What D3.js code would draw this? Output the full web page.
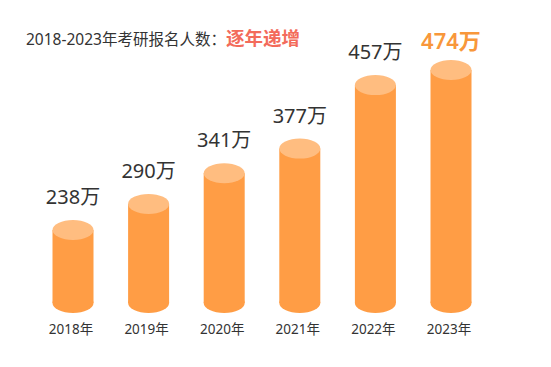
<!DOCTYPE html>
<html>
<head>
<meta charset="utf-8">
<script src="https://cdn.jsdelivr.net/npm/d3@7"></script>
<style>
  body { margin: 0; background: #fff; }
  svg { display: block; font-family: "Noto Sans", "Noto Sans CJK SC", sans-serif; }
</style>
</head>
<body>
<svg id="chart" width="551" height="367"></svg>
<script>
// data
const years = ["2018年", "2019年", "2020年", "2021年", "2022年", "2023年"];
const applicants = [238, 290, 341, 377, 457, 474];
const valueLabels = ["238万", "290万", "341万", "377万", "457万", "474万"];

const svg = d3.select("#chart");
const baseline = 303;
const rx = 20.5;
const ry = 10;

const x = d3.scalePoint().domain(years).range([73, 451]);
// heights grow faster than linear in the picture
const y = d3.scalePow().exponent(2).domain([0, 474]).range([baseline - 19, baseline - 233]);

const data = years.map((yr, i) => ({ year: yr, value: applicants[i], label: valueLabels[i], last: i === years.length - 1 }));

// title
const title = svg.append("text").attr("x", 26).attr("y", 45);
title.append("tspan").attr("font-size", 15.5).attr("fill", "#333").text("2018-2023年考研报名人数：");
title.append("tspan").attr("font-size", 18.5).attr("font-weight", "bold").attr("fill", "#f36b5b").text("逐年递增");

const bars = svg.selectAll(".bar").data(data).enter().append("g").attr("class", "bar");

bars.append("ellipse")
  .attr("cx", d => x(d.year))
  .attr("cy", baseline)
  .attr("rx", rx).attr("ry", ry)
  .attr("fill", "#ff9d45");

bars.append("rect")
  .attr("x", d => x(d.year) - rx)
  .attr("y", d => y(d.value))
  .attr("width", rx * 2)
  .attr("height", d => baseline - y(d.value))
  .attr("fill", "#ff9d45");

bars.append("ellipse")
  .attr("cx", d => x(d.year))
  .attr("cy", d => y(d.value))
  .attr("rx", rx).attr("ry", ry)
  .attr("fill", "#ffbd80");

bars.append("text")
  .attr("x", d => x(d.year))
  .attr("y", d => y(d.value) - (d.last ? 21 : 26))
  .attr("text-anchor", "middle")
  .attr("font-size", d => d.last ? 22 : 20)
  .attr("font-weight", d => d.last ? 600 : "normal")
  .attr("fill", d => d.last ? "#f8973b" : "#333")
  .text(d => d.label);

bars.append("text")
  .attr("x", d => x(d.year) - 2)
  .attr("y", 334)
  .attr("text-anchor", "middle")
  .attr("font-size", 13.5)
  .attr("fill", "#333")
  .text(d => d.year);
</script>
</body>
</html>
